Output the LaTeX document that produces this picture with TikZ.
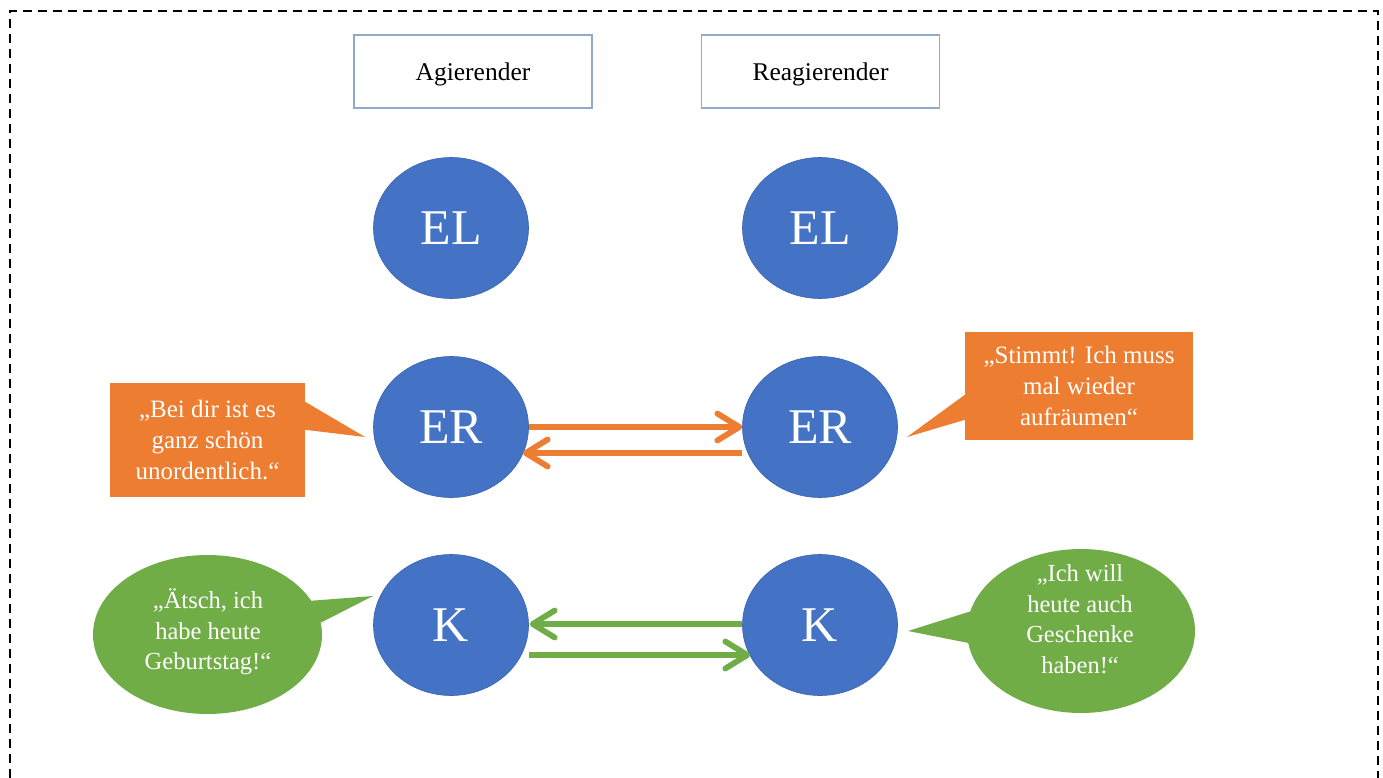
\documentclass[tikz,border=0pt]{standalone}
\usepackage{fontspec}
\setmainfont{Liberation Serif}
\usetikzlibrary{arrows.meta,shapes.geometric}
\definecolor{cblue}{HTML}{4472C4}
\definecolor{cblueline}{HTML}{3B64AE}
\definecolor{corange}{HTML}{ED7D31}
\definecolor{cgreen}{HTML}{70AD47}
\definecolor{cframe}{HTML}{8FAACC}
\begin{document}
\begin{tikzpicture}[x=1pt,y=-1pt,
  hbox/.style={draw=cframe, line width=1.2pt, minimum width=238pt, minimum height=73pt, inner sep=0pt,
    text depth=0pt, font=\fontsize{25.5}{30}\selectfont},
  person/.style={ellipse, fill=cblue, draw=cblueline, line width=0.6pt, minimum width=155pt, minimum height=141pt,
    inner sep=0pt, text=white, font=\fontsize{50}{60}\selectfont},
  obox/.style={fill=corange, inner sep=0pt, text=white, align=center, font=\fontsize{25}{31}\selectfont},
  gell/.style={ellipse, fill=cgreen, inner sep=0pt},
  gtxt/.style={inner sep=0pt, text=white, align=center, font=\fontsize{24.5}{30.5}\selectfont},
  oarrow/.style={draw=corange, line width=5.8pt, -{Straight Barb[length=22pt,width=27pt,round]}},
  garrow/.style={draw=cgreen, line width=5.8pt, -{Straight Barb[length=22pt,width=27pt,round]}}
]
\useasboundingbox (0,0) rectangle (1383,778);
\fill[white] (0,0) rectangle (1383,778);
\draw[line width=2pt, dash pattern=on 9pt off 6pt] (10,778) -- (10,11) -- (1378,11) -- (1378,778);

% headers
\node[hbox] (hA) at (473,71.5) {Agierender};
\node[hbox] (hR) at (820.5,71.5) {Reagierender};

% persons
\node[person] (elL) at (451,228) {EL};
\node[person] (elR) at (820,228) {EL};
\node[person] (erL) at (451,427) {ER};
\node[person] (erR) at (820,427) {ER};
\node[person] (kL) at (451,625) {K};
\node[person] (kR) at (820,625) {K};

% orange arrows
\draw[oarrow] (erL.east) -- (erR.west);
\draw[oarrow] ([yshift=-26pt]erR.west) -- ([yshift=-26pt,xshift=-6pt]erL.east);
% green arrows
\draw[garrow] ([yshift=1pt]kR.west) -- ([yshift=1pt,xshift=1pt]kL.east);
\draw[garrow] ([yshift=-30pt]kL.east) -- ([yshift=-30pt,xshift=8pt]kR.west);

% orange callouts
\node[obox, minimum width=195pt, minimum height=114pt] (sayL) at (207.5,440) {„Bei dir ist es\\ganz schön\\unordentlich.“};
\coordinate (tipL) at (365,437);
\fill[corange] ([yshift=-19pt]sayL.north east) -- (tipL) -- ([yshift=-47pt]sayL.north east) -- cycle;

\node[obox, minimum width=228pt, minimum height=108pt] (sayR) at (1079,386) {„Stimmt! Ich muss\\mal wieder\\aufräumen“};
\coordinate (tipR) at (907,437);
\fill[corange] ([yshift=-63pt]sayR.north west) -- (tipR) -- ([yshift=-88pt]sayR.north west) -- cycle;

% green callouts
\node[gell, minimum width=229pt, minimum height=159pt] (gL) at (207.5,634.5) {};
\coordinate (tipGL) at (373,596);
\fill[cgreen] (gL.18) -- (tipGL) -- (gL.6) -- cycle;
\node[gtxt] (gLt) at (208,632) {„Ätsch, ich\\habe heute\\Geburtstag!“};

\node[gell, minimum width=228pt, minimum height=164pt] (gR) at (1081,631) {};
\coordinate (tipGR) at (908,631);
\fill[cgreen] (gR.170) -- (tipGR) -- (gR.186) -- cycle;
\node[gtxt] (gRt) at (1080,619) {„Ich will\\heute auch\\Geschenke\\haben!“};
\end{tikzpicture}
\end{document}
